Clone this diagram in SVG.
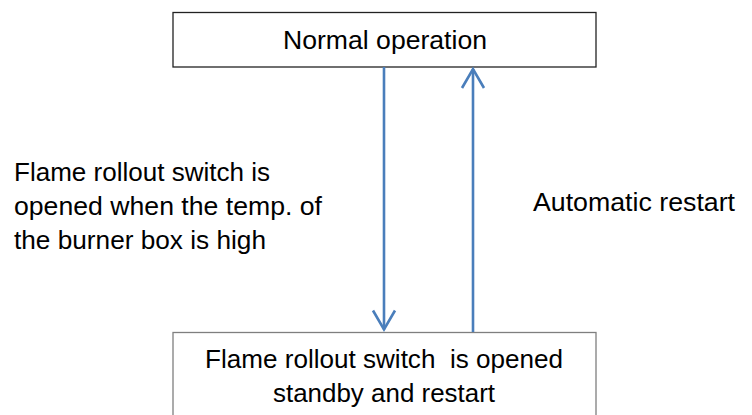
<svg xmlns="http://www.w3.org/2000/svg" width="752" height="415" viewBox="0 0 752 415">
  <style>
    .box { fill: #ffffff; stroke-width: 1.3; }
    .t { font-family: "Liberation Sans", Arial, sans-serif; font-size: 25px; fill: #000000; white-space: pre; }
    .conn { stroke: #4a7ebb; stroke-width: 2.6; fill: none; }
  </style>
  <defs>
    <marker id="open" viewBox="-22 -13 26 26" markerWidth="26" markerHeight="26" refX="0" refY="0" orient="auto" markerUnits="userSpaceOnUse">
      <path d="M-19,-11 L0,0 L-19,11" fill="none" stroke="#4a7ebb" stroke-width="2.6" stroke-linejoin="miter"/>
    </marker>
  </defs>
  <rect width="752" height="415" fill="#ffffff"/>
  <g id="node-normal">
    <rect class="box" x="173" y="12.5" width="423" height="54.5" stroke="#222222"/>
    <text class="t" x="283" y="49" textLength="204" lengthAdjust="spacingAndGlyphs">Normal operation</text>
  </g>
  <g id="node-standby">
    <rect class="box" x="173" y="332.5" width="423" height="100" stroke="#7f7f7f"/>
    <text class="t" x="205" y="368" textLength="358" lengthAdjust="spacingAndGlyphs" xml:space="preserve">Flame rollout switch  is opened</text>
    <text class="t" x="273" y="401.5" textLength="222" lengthAdjust="spacingAndGlyphs">standby and restart</text>
  </g>
  <g id="connectors">
    <line class="conn" x1="384" y1="67" x2="384" y2="329.5" marker-end="url(#open)"/>
    <line class="conn" x1="473" y1="332" x2="473" y2="69" marker-end="url(#open)"/>
  </g>
  <g id="label-left">
    <text class="t" x="14" y="181" textLength="256" lengthAdjust="spacingAndGlyphs">Flame rollout switch is</text>
    <text class="t" x="14" y="215" textLength="308" lengthAdjust="spacingAndGlyphs">opened when the temp. of</text>
    <text class="t" x="14" y="249" textLength="252" lengthAdjust="spacingAndGlyphs">the burner box is high</text>
  </g>
  <g id="label-right">
    <text class="t" x="533" y="210.5" textLength="202" lengthAdjust="spacingAndGlyphs">Automatic restart</text>
  </g>
</svg>
